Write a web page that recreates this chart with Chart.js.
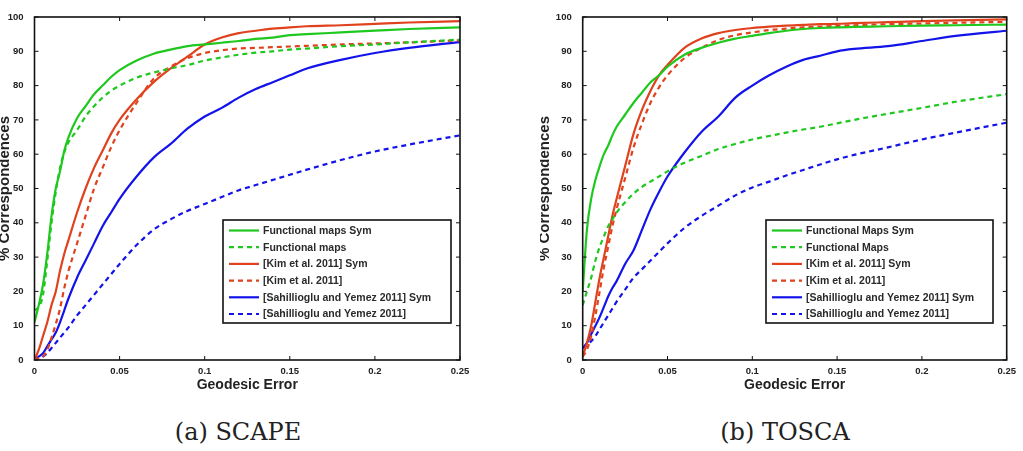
<!DOCTYPE html>
<html>
<head>
<meta charset="utf-8">
<script src="https://cdn.jsdelivr.net/npm/chart.js@4.4.1/dist/chart.umd.min.js"></script>
<style>
  body{margin:0;background:#fff;width:1023px;height:451px;overflow:hidden;position:relative}
  .box{position:absolute;top:0;height:400px}
  .cap{position:absolute;top:418px;font-family:"DejaVu Serif",serif;font-size:24px;color:#222;text-align:center;width:300px}
</style>
</head>
<body>
<div class="box" style="left:0;width:480px"><canvas id="scape"></canvas></div>
<div class="box" style="left:540px;width:483px"><canvas id="tosca"></canvas></div>
<div class="cap" style="left:88px">(a) SCAPE</div>
<div class="cap" style="left:635px">(b) TOSCA</div>
<script>
// geodesic error sample points (x axis)
const err=[0,0.0025,0.005,0.0075,0.01,0.0125,0.015,0.0175,0.02,0.025,0.03,0.035,0.04,0.045,0.05,0.06,0.07,0.08,0.09,0.1,0.11,0.12,0.13,0.14,0.15,0.16,0.18,0.2,0.22,0.25]
const xTicks=[0,0.05,0.1,0.15,0.2,0.25]
const yTicks=[0,10,20,30,40,50,60,70,80,90,100]

// SCAPE
const scapeLabels=["Functional maps Sym","Functional maps","[Kim et al. 2011] Sym","[Kim et al. 2011]","[Sahillioglu and Yemez 2011] Sym","[Sahillioglu and Yemez 2011]"]
const scapeFmSym=[11,16,22,31,42,50,55,61,65,70.5,74,77.5,80,82.5,84.5,87.3,89.3,90.5,91.5,92,92.5,93,93.6,94,94.7,95,95.5,96,96.5,97]
const scapeFm=[14.5,15.5,19,29,40,49,56,60.5,63.5,67,71,74,76.5,78.5,80,82.3,83.8,85,86,87.3,88.2,89,89.6,90,90.5,90.8,91.5,92,92.6,93.4]
const scapeKimSym=[0,3,7,11,16,20,26,31,35,43,50,56,61,66,70,76,81,85,88.5,92,94,95.3,96,96.6,97,97.3,97.6,98,98.4,98.8]
const scapeKim=[0,0.5,1,3,6.5,10.5,15,21,26,34,42,50,56,62,67,75,82,85.5,88,89.5,90.3,90.8,91,91.2,91.4,91.6,92,92.3,92.6,93.2]
const scapeSahSym=[0,1,2,4,6,8,11,14.5,18,24,29,34,39,43,47,53.5,59,63,67.5,71,73.5,76.5,79,81,83,85,87.5,89.5,91,92.7]
const scapeSah=[0,0,1,2,3.5,5,6.5,8,9.5,13,16,19,22,25,28,33.5,38,41,43.5,45.5,47.5,49.5,51,52.5,54,55.5,58.3,60.8,62.8,65.5]

// TOSCA
const toscaLabels=["Functional Maps Sym","Functional Maps","[Kim et al. 2011] Sym","[Kim et al. 2011]","[Sahillioglu and Yemez 2011] Sym","[Sahillioglu and Yemez 2011]"]
const toscaFmSym=[20,38,47,52.5,56.5,60,62.5,65.5,68,71.5,75,78,81,83,85.5,89,91,92.5,93.7,94.5,95.3,96,96.5,96.8,97,97.1,97.3,97.5,97.6,97.8]
const toscaFm=[16,20,24,29,33,36,39,41,43,46,48.5,50.5,52,53.5,55,57.5,59.5,61.5,63,64.3,65.3,66.3,67.2,68,69,70,71.8,73.5,75.3,77.5]
const toscaKimSym=[1,5,10,17,24,30,36,42,47,56.5,66,73,78.5,83,86,91,93.7,95.3,96.2,96.8,97.2,97.5,97.7,97.9,98,98.2,98.5,98.8,99,99.3]
const toscaKim=[1,3,7,13,20,27,33,39,44,53,62,69,75,79.5,83,88,91,93.3,94.7,95.5,96.2,96.6,97,97.2,97.4,97.6,97.9,98.1,98.3,98.6]
const toscaSahSym=[3.5,5,7.5,10,12.5,15.5,18.5,21,23,28,32,38,44,49,53.5,60.5,66.5,71,76.5,80,83,85.5,87.5,88.7,90,90.7,91.5,93,94.5,96]
const toscaSah=[3.5,4.5,5.5,7,9,11,13,15,17,20.5,24,26.5,29,31.5,34,38.5,42,45,48,50.3,52,53.8,55.4,57,58.5,59.8,62,64.3,66.3,69.2]

const GREEN="#1ec81e", RED="#e0421e", BLUE="#1414ea"
const colors=[GREEN,GREEN,RED,RED,BLUE,BLUE]
const dashes=[[],[5,4],[],[5,4],[],[5,4]]

function pts(ys){return err.map((x,i)=>({x:x,y:ys[i]}))}

// MATLAB-ish frame: box, inward ticks and legend inside the axes
const matlabBox={
  id:"matlabBox",
  afterDatasetsDraw(chart,args,opts){
    const ctx=chart.ctx, a=chart.chartArea, xs=chart.scales.x, ys=chart.scales.y
    ctx.save()
    ctx.strokeStyle="#111"; ctx.lineWidth=1
    ctx.beginPath()
    xTicks.forEach(v=>{const p=xs.getPixelForValue(v); ctx.moveTo(p,a.bottom); ctx.lineTo(p,a.bottom-4); ctx.moveTo(p,a.top); ctx.lineTo(p,a.top+4)})
    yTicks.forEach(v=>{const p=ys.getPixelForValue(v); ctx.moveTo(a.left,p); ctx.lineTo(a.left+4,p); ctx.moveTo(a.right,p); ctx.lineTo(a.right-4,p)})
    ctx.stroke()
    ctx.lineWidth=1.6
    ctx.strokeRect(a.left,a.top,a.right-a.left,a.bottom-a.top)
    // legend
    const b=opts.box
    ctx.fillStyle="#fff"; ctx.fillRect(b.x,b.y,b.w,b.h)
    ctx.lineWidth=1.6; ctx.strokeStyle="#111"; ctx.strokeRect(b.x,b.y,b.w,b.h)
    ctx.font="bold 10.5px 'Liberation Sans', Arial, sans-serif"
    ctx.textBaseline="middle"
    chart.data.datasets.forEach((d,i)=>{
      const yy=b.y+10.5+i*16.7
      ctx.strokeStyle=d.borderColor; ctx.lineWidth=2.2; ctx.setLineDash(d.borderDash)
      ctx.beginPath(); ctx.moveTo(b.x+6,yy); ctx.lineTo(b.x+36,yy); ctx.stroke()
      ctx.setLineDash([])
      ctx.fillStyle="#2a2a2a"; ctx.fillText(d.label,b.x+40,yy+0.5)
    })
    ctx.restore()
  }
}

function makeChart(id,labels,series,yAxisW,padRight,box){
  new Chart(id,{
    type:"line",
    data:{
      datasets:series.map((s,i)=>({
        label:labels[i],
        data:pts(s),
        borderColor:colors[i],
        borderDash:dashes[i],
        borderWidth:2.2,
        pointRadius:0,
        cubicInterpolationMode:"monotone",
        fill:false,
      })),
    },
    options:{
      responsive:false,
      animation:false,
      layout:{padding:{top:17,right:padRight,left:0,bottom:6}},
      plugins:{legend:{display:false},tooltip:{enabled:false},matlabBox:{box:box}},
      scales:{
        x:{
          type:"linear",min:0,max:0.25,
          afterBuildTicks:s=>{s.ticks=xTicks.map(v=>({value:v}))},
          afterFit:s=>{s.height=34},
          grid:{display:false},
          border:{display:false},
          ticks:{padding:-2,color:"#222",maxRotation:0,font:{family:"Liberation Sans",size:9.5,weight:"bold"},callback:v=>String(v)},
          title:{display:true,text:"Geodesic Error",color:"#222",padding:{top:0,bottom:0},font:{family:"Liberation Sans",size:14,weight:"bold"}},
        },
        y:{
          min:0,max:100,
          afterBuildTicks:s=>{s.ticks=yTicks.map(v=>({value:v}))},
          afterFit:s=>{s.width=yAxisW},
          grid:{display:false},
          border:{display:false},
          ticks:{padding:3,color:"#222",font:{family:"Liberation Sans",size:9.5,weight:"bold"}},
          title:{display:true,text:"% Correspondences",color:"#222",padding:{top:-4,bottom:0},font:{family:"Liberation Sans",size:15,weight:"bold"}},
        },
      },
    },
    plugins:[matlabBox],
  })
}

const cs=document.getElementById("scape"); cs.width=480; cs.height=400
const ct=document.getElementById("tosca"); ct.width=483; ct.height=400

makeChart("scape",scapeLabels,[scapeFmSym,scapeFm,scapeKimSym,scapeKim,scapeSahSym,scapeSah],34.5,20,{x:223,y:220,w:228,h:103})
makeChart("tosca",toscaLabels,[toscaFmSym,toscaFm,toscaKimSym,toscaKim,toscaSahSym,toscaSah],42.7,16.3,{x:226,y:220,w:227,h:103})
</script>
</body>
</html>
